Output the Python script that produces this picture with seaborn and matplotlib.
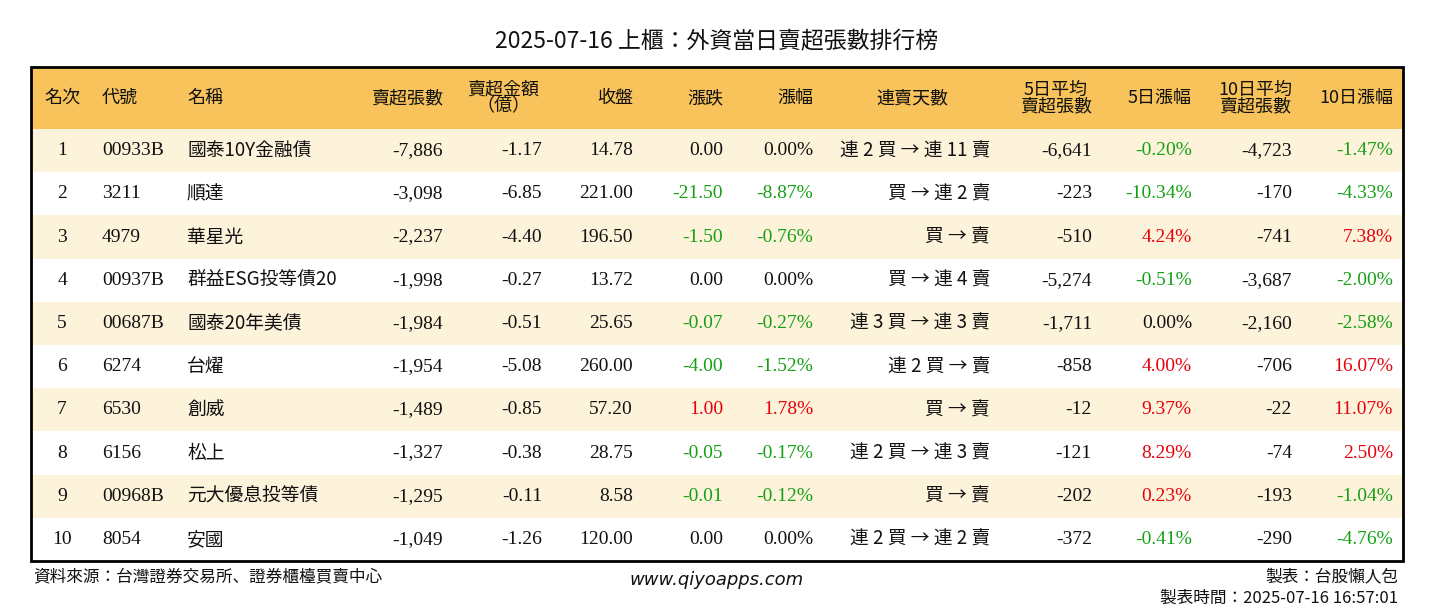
import matplotlib
matplotlib.use("Agg")
import matplotlib.pyplot as plt
from matplotlib.colors import ListedColormap
from matplotlib.patches import Rectangle
import seaborn as sns
import numpy as np

sns.set_theme(style="white")

ranks = list(range(1, 11))
codes = ["00933B", "3211", "4979", "00937B", "00687B", "6274", "6530", "6156", "00968B", "8054"]
names = ["國泰10Y金融債", "順達", "華星光", "群益ESG投等債20", "國泰20年美債", "台燿", "創威", "松上", "元大優息投等債", "安國"]
net_sell = [-7886, -3098, -2237, -1998, -1984, -1954, -1489, -1327, -1295, -1049]
amount = [-1.17, -6.85, -4.40, -0.27, -0.51, -5.08, -0.85, -0.38, -0.11, -1.26]
close = [14.78, 221.00, 196.50, 13.72, 25.65, 260.00, 57.20, 28.75, 8.58, 120.00]
change = [0.00, -21.50, -1.50, 0.00, -0.07, -4.00, 1.00, -0.05, -0.01, 0.00]
pct = [0.00, -8.87, -0.76, 0.00, -0.27, -1.52, 1.78, -0.17, -0.12, 0.00]
streak = ["連 2 買 → 連 11 賣", "買 → 連 2 賣", "買 → 賣", "買 → 連 4 賣", "連 3 買 → 連 3 賣",
          "連 2 買 → 賣", "買 → 賣", "連 2 買 → 連 3 賣", "買 → 賣", "連 2 買 → 連 2 賣"]
avg5 = [-6641, -223, -510, -5274, -1711, -858, -12, -121, -202, -372]
pct5 = [-0.20, -10.34, 4.24, -0.51, 0.00, 4.00, 9.37, 8.29, 0.23, -0.41]
avg10 = [-4723, -170, -741, -3687, -2160, -706, -22, -74, -193, -290]
pct10 = [-1.47, -4.33, 7.38, -2.00, -2.58, 16.07, 11.07, 2.50, -1.04, -4.76]
headers = ["名次", "代號", "名稱", "賣超張數", "賣超金額\n（億）", "收盤", "漲跌", "漲幅", "連賣天數",
           "5日平均\n賣超張數", "5日漲幅", "10日平均\n賣超張數", "10日漲幅"]

CJK = "Noto Sans CJK JP"
SERIF = "Liberation Serif"

def fam(s):
    return CJK if any(ord(c) > 0x2000 for c in s) else SERIF

W, H = 1434, 612
fig = plt.figure(figsize=(W / 100, H / 100), dpi=100)
L, R, T, HB, B = 31, 1403, 67, 129, 561

hax = fig.add_axes([L / W, 1 - B / H, (R - L) / W, (B - HB) / H])
stripe = np.array([[i % 2] for i in range(10)])
sns.heatmap(stripe, ax=hax, cmap=ListedColormap(["#FDF2DA", "#FFFFFF"]), cbar=False,
            xticklabels=False, yticklabels=False)
hax.set_axis_off()

ax = fig.add_axes([0, 0, 1, 1], facecolor="none")
ax.set_xlim(0, W)
ax.set_ylim(H, 0)
ax.set_axis_off()
ax.add_patch(Rectangle((L, T), R - L, HB - T, facecolor="#F8C35A", edgecolor="none"))
ax.add_patch(Rectangle((L, T), R - L, B - T, facecolor="none", edgecolor="black", lw=2))

def txt(x, y, s, ha, fs, color="#111111", **kw):
    f = kw.pop("family", fam(s))
    ax.text(x, y, s, ha=ha, va="center", fontsize=fs, color=color, family=f, **kw)

txt(717, 42, "2025-07-16 上櫃：外資當日賣超張數排行榜", "center", 16.5)

hx = [(44, "left"), (102, "left"), (187, "left"), (443, "right"), (503, "center"), (633, "right"),
      (723, "right"), (813, "right"), (912, "center"), (1092, "right"), (1192, "right"),
      (1292, "right"), (1393, "right")]
hy = (T + HB) / 2
for (x, a), h in zip(hx, headers):
    txt(x, hy, h, a, 13, linespacing=0.9, multialignment="center")

GREEN, RED = "#15A015", "#E8000B"
def col(v):
    return GREEN if v < 0 else (RED if v > 0 else "#111111")

rh = (B - HB) / 10
fs = 14
cfs = 13.5
for i in range(10):
    y = HB + rh * (i + 0.5)
    txt(62, y, str(ranks[i]), "center", fs)
    txt(102, y, codes[i], "left", fs)
    txt(187, y, names[i], "left", cfs)
    txt(443, y, f"{net_sell[i]:,}", "right", fs)
    txt(542, y, f"{amount[i]:.2f}", "right", fs)
    txt(633, y, f"{close[i]:.2f}", "right", fs)
    txt(723, y, f"{change[i]:.2f}", "right", fs, col(change[i]))
    txt(813, y, f"{pct[i]:.2f}%", "right", fs, col(pct[i]))
    txt(990, y, streak[i], "right", cfs)
    txt(1092, y, f"{avg5[i]:,}", "right", fs)
    txt(1192, y, f"{pct5[i]:.2f}%", "right", fs, col(pct5[i]))
    txt(1292, y, f"{avg10[i]:,}", "right", fs)
    txt(1393, y, f"{pct10[i]:.2f}%", "right", fs, col(pct10[i]))

txt(33, 577, "資料來源：台灣證券交易所、證券櫃檯買賣中心", "left", 12)
txt(717, 580, "www.qiyoapps.com", "center", 13, style="italic", family="DejaVu Sans")
txt(1398, 577, "製表：台股懶人包", "right", 12)
txt(1398, 598, "製表時間：2025-07-16 16:57:01", "right", 12)

fig.savefig("out.png", dpi=100, facecolor="white")
